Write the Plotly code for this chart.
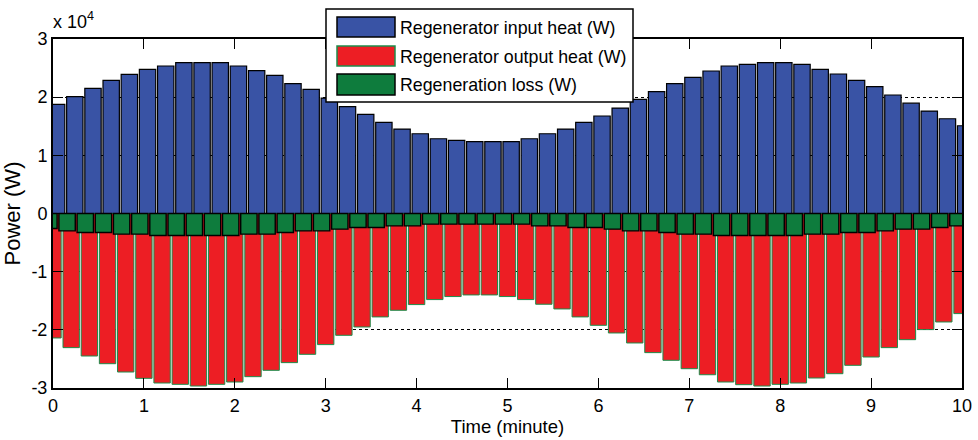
import plotly.graph_objects as go

# Time axis (minutes), one sample every 0.2 min
time_min = [round(0.2 * k, 1) for k in range(51)]

# Regenerator input heat (W)
input_heat = [18770, 20080, 21520, 22890, 23930, 24790, 25360, 25930, 25930, 25930,
              25360, 24550, 23760, 22320, 21350, 19850, 18360, 17050, 15670, 14520,
              13710, 12850, 12560, 12340, 12340, 12340, 12850, 13710, 14520, 15670,
              16760, 18120, 19620, 20940, 22320, 23410, 24500, 25360, 25650, 25930,
              25930, 25650, 24790, 23980, 22890, 21800, 20370, 18960, 17610, 16290,
              15090]

# Regenerator output heat (W)
output_heat = [-21400, -23060, -24500, -25820, -27250, -28340, -29140, -29370, -29660, -29370,
               -28970, -28050, -26960, -25640, -24210, -22540, -20940, -19510, -17780, -16640,
               -15660, -14800, -14280, -14000, -14000, -14280, -14800, -15600, -16410, -17780,
               -19220, -20540, -22260, -23920, -25240, -26680, -27720, -28970, -29430, -29660,
               -29370, -29140, -28280, -27540, -26100, -24670, -23060, -21690, -19960, -18650,
               -17210]

# Regeneration loss (W)
regen_loss = [-2580, -2980, -3270, -3270, -3550, -3550, -3780, -3780, -3780, -3780,
              -3780, -3550, -3550, -3270, -2980, -2980, -2690, -2400, -2400, -2120,
              -2120, -1830, -1830, -1830, -1830, -1830, -1830, -2120, -2120, -2400,
              -2400, -2690, -2980, -2980, -3270, -3550, -3550, -3780, -3780, -3780,
              -3780, -3780, -3550, -3550, -3270, -3270, -2980, -2690, -2690, -2400,
              -2120]

series_names = ["Regenerator input heat (W)",
                "Regenerator output heat (W)",
                "Regeneration loss (W)"]

y_ticks = [-30000, -20000, -10000, 0, 10000, 20000, 30000]
y_tick_text = ["-3", "-2", "-1", "0", "1", "2", "3"]
x_ticks = list(range(0, 11))

BLUE = "rgb(57,83,165)"
RED = "rgb(237,30,36)"
GREEN = "rgb(14,124,61)"
EDGE_GREEN = "rgb(30,140,75)"
FONT = "Liberation Sans, Arial, sans-serif"

W, H = 978, 440
ML, MR, MT, MB = 53, 16, 39, 52
PW, PH = W - ML - MR, H - MT - MB

BAR_W = 0.18


def px(x):
    return (x - ML) / PW


def py(y):
    return (H - MB - y) / PH


fig = go.Figure()

# grouped bars: each series sits slightly shifted inside its time slot
fig.add_trace(go.Bar(x=time_min, y=input_heat, name=series_names[0],
                     width=BAR_W, offset=0.04 - BAR_W / 2,
                     marker=dict(color=BLUE, line=dict(color="black", width=1.2)),
                     showlegend=False))
fig.add_trace(go.Bar(x=time_min, y=output_heat, name=series_names[1],
                     width=BAR_W, offset=-BAR_W / 2,
                     marker=dict(color=RED, line=dict(color=EDGE_GREEN, width=1)),
                     showlegend=False))
fig.add_trace(go.Bar(x=time_min, y=regen_loss, name=series_names[2],
                     width=BAR_W, offset=-0.045 - BAR_W / 2,
                     marker=dict(color=GREEN, line=dict(color="black", width=1.4)),
                     showlegend=False))

shapes = []
annotations = []

# legend box with wide swatches
shapes.append(dict(type="rect", xref="paper", yref="paper", layer="above",
                   x0=px(326), x1=px(633), y0=py(102), y1=py(9),
                   fillcolor="white", line=dict(color="black", width=1.5)))
rows = [(17, 37, BLUE, "black"), (46, 66, RED, EDGE_GREEN), (74, 95, GREEN, "black")]
for (top, bot, fill, edge), label in zip(rows, series_names):
    shapes.append(dict(type="rect", xref="paper", yref="paper", layer="above",
                       x0=px(337), x1=px(395), y0=py(bot), y1=py(top),
                       fillcolor=fill, line=dict(color=edge, width=1.5)))
    annotations.append(dict(xref="paper", yref="paper", x=px(398), y=py((top + bot) / 2 + 1),
                            xanchor="left", yanchor="middle", showarrow=False,
                            text=label, font=dict(family=FONT, size=17.8, color="black")))

# exponent label of the y axis
annotations.append(dict(xref="paper", yref="paper", x=px(51), y=py(34),
                        xanchor="left", yanchor="bottom", showarrow=False,
                        text="x 10<sup>4</sup>", font=dict(family=FONT, size=18, color="black")))

axis_common = dict(showline=True, linecolor="black", linewidth=2, mirror="ticks",
                   ticks="inside", ticklen=10, tickwidth=1.2, tickcolor="black",
                   tickfont=dict(family=FONT, size=18, color="black"),
                   zeroline=False, automargin=False)

fig.update_layout(
    width=W, height=H, autosize=False,
    margin=dict(l=ML, r=MR, t=MT, b=MB, pad=0),
    paper_bgcolor="white", plot_bgcolor="white",
    barmode="overlay",
    font=dict(family=FONT, size=18, color="black"),
    xaxis=dict(range=[0, 10], tickvals=x_ticks, showgrid=False,
               title=dict(text="Time (minute)", font=dict(family=FONT, size=18.5), standoff=5),
               **axis_common),
    yaxis=dict(range=[-30000, 30000], tickvals=y_ticks, ticktext=y_tick_text,
               showgrid=True, gridcolor="black", gridwidth=1, griddash="dot",
               title=dict(text="Power (W)", font=dict(family=FONT, size=22), standoff=6),
               **axis_common),
    shapes=shapes,
    annotations=annotations,
)

fig.write_html("out.html")
